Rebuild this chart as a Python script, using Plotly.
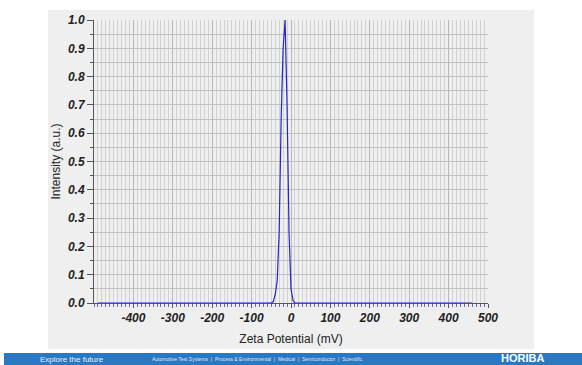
import plotly.graph_objects as go

# Data
zeta_mv = [-490, -50, -45, -40, -35, -30, -25, -20, -15, -10, -5, 0, 5, 10, 460]
intensity = [0.0, 0.0, 0.005, 0.03, 0.08, 0.25, 0.65, 0.9, 1.0, 0.7, 0.25, 0.05, 0.01, 0.0, 0.0]

x_tickvals = [-400, -300, -200, -100, 0, 100, 200, 300, 400, 500]
y_tickvals = [0.0, 0.1, 0.2, 0.3, 0.4, 0.5, 0.6, 0.7, 0.8, 0.9, 1.0]

W, H = 582, 365
L, R, T, B = 94, 94, 20, 62
pw, ph = W - L - R, H - T - B

def px_to_paper_x(px):
    return (px - L) / pw

def px_to_paper_y(py):
    return (H - B - py) / ph

fig = go.Figure()
fig.add_trace(go.Scatter(
    x=zeta_mv, y=intensity, mode="lines",
    line=dict(color="#2424d4", width=1.2),
    showlegend=False, hoverinfo="skip"))

tickfont = dict(family="Liberation Sans, Arial, sans-serif", size=12,
                color="#222222", weight="bold", style="italic")

fig.update_layout(
    width=W, height=H,
    margin=dict(l=L, r=R, t=T, b=B),
    paper_bgcolor="white",
    plot_bgcolor="white",
    font=dict(family="Liberation Sans, Arial, sans-serif", size=12, color="#222222"),
    xaxis=dict(
        range=[-500, 500], tickvals=x_tickvals, ticktext=[str(v) for v in x_tickvals],
        ticks="outside", ticklen=4, tickcolor="#555555", tickwidth=1,
        showgrid=True, gridcolor="#b8b8b8", gridwidth=1,
        minor=dict(dtick=10, tick0=0, showgrid=True, gridcolor="#d2d2d2",
                   ticks="outside", ticklen=3, tickcolor="#6a6aa8"),
        showline=True, linecolor="#555555", linewidth=1,
        zeroline=False, tickfont=tickfont,
        title=dict(text="Zeta Potential (mV)", standoff=10,
                   font=dict(size=12, color="#222222")),
    ),
    yaxis=dict(
        range=[0, 1.0], tickvals=y_tickvals, ticktext=[f"{v:.1f}" for v in y_tickvals],
        ticks="outside", ticklen=6, tickcolor="#555555", tickwidth=1,
        showgrid=True, gridcolor="#c0c0c0", gridwidth=1,
        minor=dict(dtick=0.05, tick0=0, showgrid=True, gridcolor="#c0c0c0",
                   ticks="outside", ticklen=3, tickcolor="#555555"),
        showline=True, linecolor="#555555", linewidth=1,
        zeroline=False, tickfont=tickfont,
        title=dict(text="Intensity (a.u.)", standoff=4,
                   font=dict(size=12, color="#222222")),
    ),
)

# Gray background panel
fig.add_shape(type="rect", xref="paper", yref="paper", layer="below",
              x0=px_to_paper_x(48), x1=px_to_paper_x(534),
              y0=px_to_paper_y(349), y1=px_to_paper_y(10),
              fillcolor="#efefef", line=dict(width=0))
# Blue footer bar
fig.add_shape(type="rect", xref="paper", yref="paper", layer="above",
              x0=px_to_paper_x(4), x1=px_to_paper_x(582),
              y0=px_to_paper_y(365), y1=px_to_paper_y(353),
              fillcolor="#2b78c2", line=dict(width=0))

fig.add_annotation(xref="paper", yref="paper", x=px_to_paper_x(38), y=px_to_paper_y(359),
                   text="Explore the future", showarrow=False, xanchor="left", yanchor="middle",
                   font=dict(size=8, color="#e8f0ff"))
fig.add_annotation(xref="paper", yref="paper", x=px_to_paper_x(150), y=px_to_paper_y(359),
                   text="Automotive Test Systems  |  Process &amp; Environmental  |  Medical  |  Semiconductor  |  Scientific",
                   showarrow=False, xanchor="left", yanchor="middle",
                   font=dict(size=5, color="#dce8ff"))
fig.add_annotation(xref="paper", yref="paper", x=px_to_paper_x(522), y=px_to_paper_y(358),
                   text="<b>HORIBA</b>", showarrow=False, xanchor="center", yanchor="middle",
                   borderpad=0,
                   font=dict(family="Liberation Sans, Arial, sans-serif", size=11, color="white"))

fig.write_html("out.html", config={"displayModeBar": False},
               post_script="document.body.style.margin='0';")
